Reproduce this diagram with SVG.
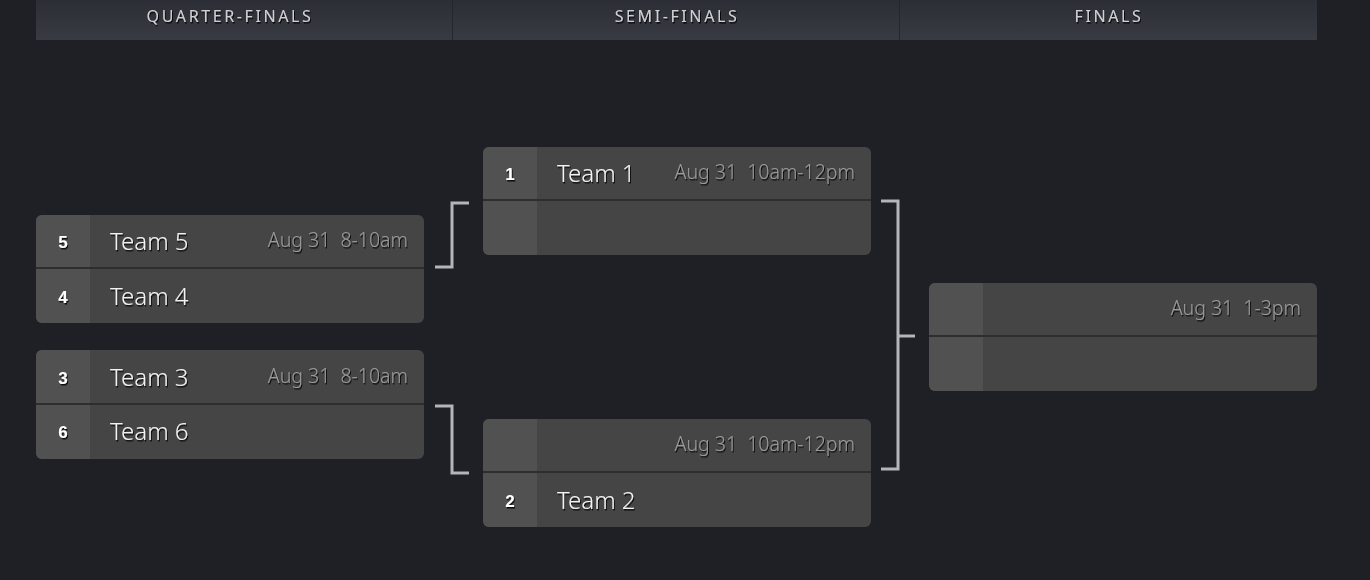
<svg xmlns="http://www.w3.org/2000/svg" width="1370" height="580" viewBox="0 0 1370 580">
<defs>
<linearGradient id="hdr" x1="0" y1="0" x2="0" y2="1"><stop offset="0" stop-color="#2c2e35"/><stop offset="1" stop-color="#393b43"/></linearGradient>
<filter id="sh" x="-10%" y="-30%" width="120%" height="160%"><feDropShadow dx="1" dy="1.5" stdDeviation="0.3" flood-color="#000" flood-opacity="0.85"/></filter>
</defs>
<style>
.bg{fill:#1f2025}
.card{fill:#454545}
.seed{fill:#515151}
.div{stroke:#2e2e2e;stroke-width:2}
.hd{font-family:"Source Sans Pro","Noto Sans",sans-serif;font-size:16px;fill:#cfd0d4;letter-spacing:2.6px;text-anchor:middle;filter:url(#sh)}
.team{font-family:"Source Sans Pro","Noto Sans",sans-serif;font-size:24px;font-weight:300;fill:#f2f2f2;filter:url(#sh)}
.date{font-family:"Source Sans Pro","Noto Sans",sans-serif;font-size:19.5px;font-weight:300;fill:#9a9a9a;text-anchor:end;filter:url(#sh)}
.sn{font-family:"Liberation Sans",sans-serif;font-size:17px;font-weight:bold;fill:#fff;text-anchor:middle;filter:url(#sh)}
.con{fill:none;stroke:#b4b4ba;stroke-width:3}
</style>
<rect class="bg" width="1370" height="580"/>
<g id="header">
<rect x="36" y="0" width="1281" height="40" fill="url(#hdr)"/>
<line x1="452.5" y1="0" x2="452.5" y2="40" stroke="#25272c" stroke-width="1"/>
<line x1="899.5" y1="0" x2="899.5" y2="40" stroke="#25272c" stroke-width="1"/>
<text class="hd" x="230" y="22">QUARTER-FINALS</text>
<text class="hd" x="677" y="22">SEMI-FINALS</text>
<text class="hd" x="1109" y="22">FINALS</text>
</g>
<g id="qf1">
<rect class="card" x="36" y="215" width="388" height="108" rx="6"/>
<path class="seed" d="M42 215H90V323H42A6 6 0 0 1 36 317V221A6 6 0 0 1 42 215Z"/>
<line class="div" x1="36" y1="268" x2="424" y2="268"/>
<text class="sn" x="63" y="248">5</text>
<text class="team" x="110" y="250">Team 5</text>
<text class="date" x="408" y="247">Aug 31&#160; 8-10am</text>
<text class="sn" x="63" y="303">4</text>
<text class="team" x="110" y="305">Team 4</text>
</g>
<g id="qf2">
<rect class="card" x="36" y="350" width="388" height="109" rx="6"/>
<path class="seed" d="M42 350H90V459H42A6 6 0 0 1 36 453V356A6 6 0 0 1 42 350Z"/>
<line class="div" x1="36" y1="404" x2="424" y2="404"/>
<text class="sn" x="63" y="384">3</text>
<text class="team" x="110" y="386">Team 3</text>
<text class="date" x="408" y="383">Aug 31&#160; 8-10am</text>
<text class="sn" x="63" y="438">6</text>
<text class="team" x="110" y="440">Team 6</text>
</g>
<g id="sf1">
<rect class="card" x="483" y="147" width="388" height="108" rx="6"/>
<path class="seed" d="M489 147H537V255H489A6 6 0 0 1 483 249V153A6 6 0 0 1 489 147Z"/>
<line class="div" x1="483" y1="200" x2="871" y2="200"/>
<text class="sn" x="510" y="180">1</text>
<text class="team" x="557" y="182">Team 1</text>
<text class="date" x="855" y="179">Aug 31&#160; 10am-12pm</text>
</g>
<g id="sf2">
<rect class="card" x="483" y="419" width="388" height="108" rx="6"/>
<path class="seed" d="M489 419H537V527H489A6 6 0 0 1 483 521V425A6 6 0 0 1 489 419Z"/>
<line class="div" x1="483" y1="472" x2="871" y2="472"/>
<text class="date" x="855" y="451">Aug 31&#160; 10am-12pm</text>
<text class="sn" x="510" y="507">2</text>
<text class="team" x="557" y="509">Team 2</text>
</g>
<g id="final">
<rect class="card" x="929" y="283" width="388" height="108" rx="6"/>
<path class="seed" d="M935 283H983V391H935A6 6 0 0 1 929 385V289A6 6 0 0 1 935 283Z"/>
<line class="div" x1="929" y1="336" x2="1317" y2="336"/>
<text class="date" x="1301" y="315">Aug 31&#160; 1-3pm</text>
</g>
<g id="connectors">
<path class="con" d="M435 267H452V203H469"/>
<path class="con" d="M435 406H452V473H469"/>
<path class="con" d="M881 201H898V469H881"/>
<path class="con" d="M898 336H915"/>
</g>
</svg>
